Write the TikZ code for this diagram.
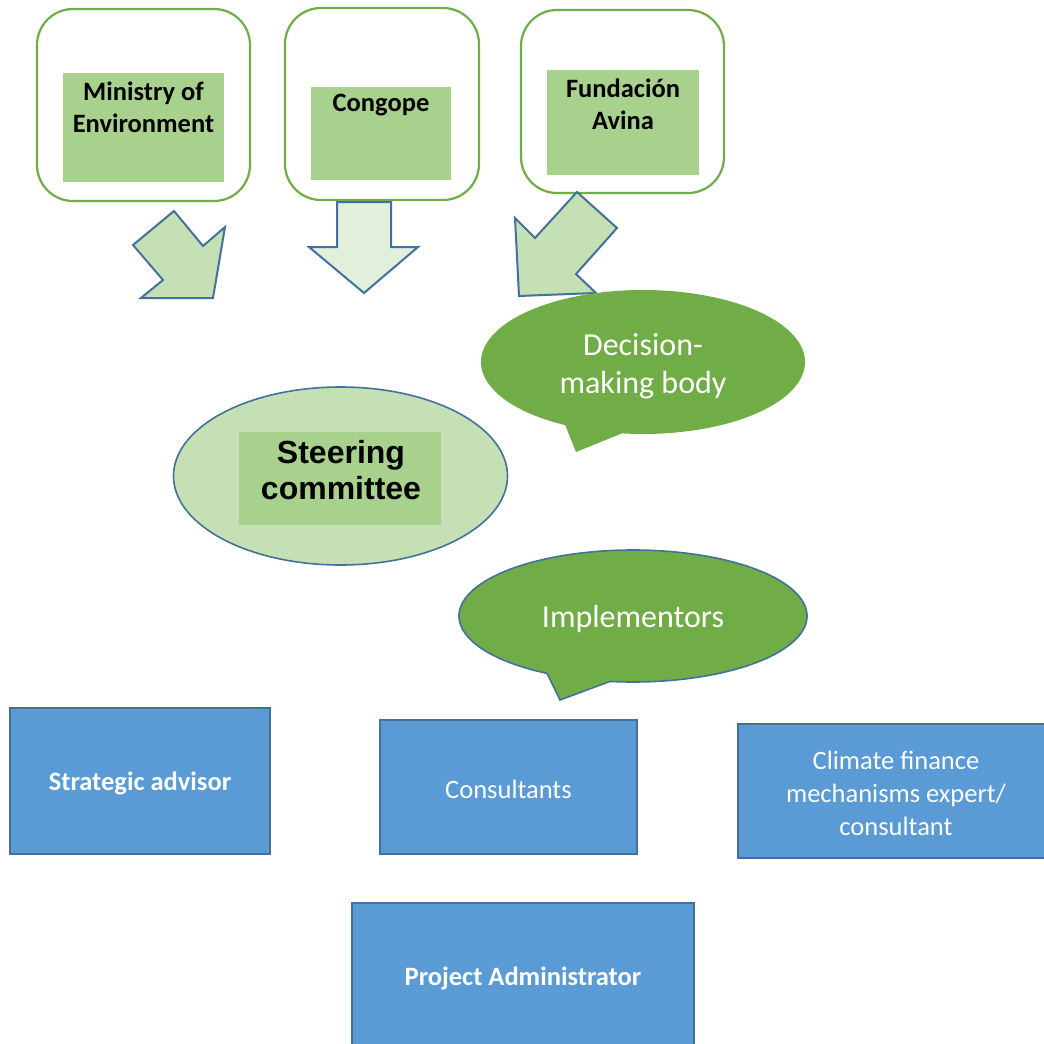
\documentclass[tikz,border=0pt]{standalone}
\usepackage{fontspec}
\setmainfont{Carlito}
\newfontfamily\arialf{Liberation Sans}
\usetikzlibrary{shapes.geometric}
\definecolor{gline}{HTML}{70AD47}
\definecolor{gin}{HTML}{A9D18E}
\definecolor{glight}{HTML}{C5E0B4}
\definecolor{gpale}{HTML}{E2EFDA}
\definecolor{bfill}{HTML}{5B9BD5}
\definecolor{bline}{HTML}{41719C}
\definecolor{gdark}{HTML}{70AD47}
\tikzset{
  orgbox/.style={draw=gline,line width=2.2pt,rounded corners=36pt,fill=white,inner sep=0pt},
  innerbox/.style={fill=gin,inner sep=0pt},
  arrowshape/.style={draw=bline,line width=2pt,fill=glight,line join=miter},
  bluebox/.style={draw=bline,line width=1.6pt,fill=bfill,inner sep=0pt,text=white,align=center},
  toptext/.style={font=\fontsize{26.5}{32}\selectfont\bfseries,align=center,text=black},
  bluetext/.style={font=\fontsize{26.5}{33}\selectfont,align=center,text=white},
}
\begin{document}
\begin{tikzpicture}[x=1pt,y=-1pt]
\useasboundingbox (0,0) rectangle (1044,1044);
% top organisation boxes
\node[orgbox,minimum width=213pt,minimum height=192pt] (b1) at (143.5,105) {};
\node[innerbox,minimum width=161pt,minimum height=109pt] (i1) at (143.5,127.5) {};
\node[toptext] (t1) at (143.5,107) {Ministry of\\Environment};
\node[orgbox,minimum width=194pt,minimum height=192pt] (b2) at (382,104) {};
\node[innerbox,minimum width=140pt,minimum height=93pt] (i2) at (381,133.5) {};
\node[toptext] (t2) at (381,105) {Congope};
\node[orgbox,minimum width=203pt,minimum height=183pt] (b3) at (622.5,101.5) {};
\node[innerbox,minimum width=152pt,minimum height=105pt] (i3) at (623,122.5) {};
\node[toptext] (t3) at (623,104) {Fundación\\Avina};
% block arrows
\draw[arrowshape] (133,245) -- (174,211) -- (203,246) -- (225,227) -- (213,298) -- (141,298) -- (163,280) -- cycle;
\draw[arrowshape,fill=gpale] (337,202) -- (391,202) -- (391,247) -- (418,247) -- (364,293) -- (309,247) -- (337,247) -- cycle;
\draw[arrowshape] (577,192) -- (617,228) -- (576,274) -- (596,293) -- (519,296) -- (515,218) -- (535,238) -- cycle;
% decision-making callout
\fill[gdark] (643,362) ++(118.7:162 and 72) arc[start angle=118.7,end angle=457.5,x radius=162,y radius=72] -- (576,452) -- cycle;
\node[font=\fontsize{32}{38}\selectfont,text=white,align=center] (dec) at (643,366) {Decision-\\making body};
% steering committee
\node[ellipse,draw=bline,line width=1.6pt,fill=glight,minimum width=334pt,minimum height=178pt,inner sep=0pt] (sc) at (340.5,476) {};
\node[innerbox,minimum width=202pt,minimum height=93pt] (sci) at (340,478.5) {};
\node[font=\arialf\fontsize{32}{36}\selectfont\bfseries,align=center] (sct) at (341,470) {Steering\\committee};
% implementors callout
\draw[draw=bline,line width=1.6pt,fill=gdark] (633,616) ++(119.6:174 and 66) arc[start angle=119.6,end angle=457.6,x radius=174,y radius=66] -- (560,700) -- cycle;
\node[font=\fontsize{32}{38}\selectfont,text=white] (imp) at (633,619) {Implementors};
% blue boxes
\node[bluebox,minimum width=260pt,minimum height=146pt] (sa) at (140,781) {};
\node[bluetext,font=\fontsize{26.5}{33}\selectfont\bfseries] (sat) at (140,783) {Strategic advisor};
\node[bluebox,minimum width=257pt,minimum height=134pt] (co) at (508.5,787) {};
\node[bluetext] (cot) at (508.5,789) {Consultants};
\node[bluebox,minimum width=310pt,minimum height=134pt] (cf) at (893,791) {};
\node[bluetext] (cft) at (896,793) {Climate finance\\mechanisms expert/\\consultant};
\node[bluebox,minimum width=342pt,minimum height=150pt] (pa) at (523,978) {};
\node[bluetext,font=\fontsize{26.5}{33}\selectfont\bfseries] (pat) at (523,978) {Project Administrator};
\end{tikzpicture}
\end{document}
